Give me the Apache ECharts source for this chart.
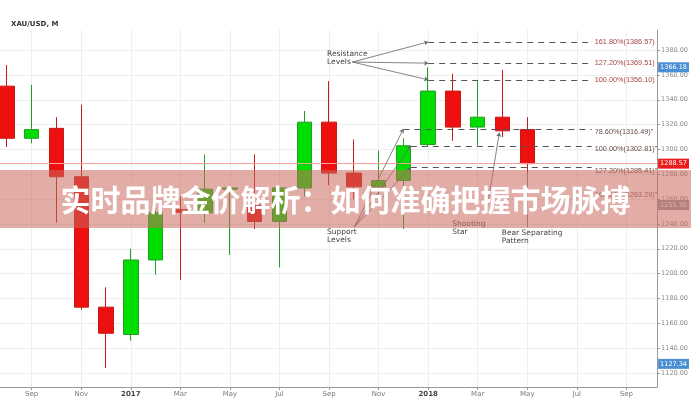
<!DOCTYPE html>
<html><head><meta charset="utf-8">
<script src="https://cdn.jsdelivr.net/npm/echarts@6/dist/echarts.min.js"></script>
<style>html,body{margin:0;padding:0;background:#fff}#c{width:691px;height:400px}</style>
</head><body><div id="c"></div>
<script>
// ---- data ----
const months = ['2016-08','2016-09','2016-10','2016-11','2016-12','2017-01','2017-02','2017-03','2017-04','2017-05','2017-06','2017-07','2017-08','2017-09','2017-10','2017-11','2017-12','2018-01','2018-02','2018-03','2018-04','2018-05'];
const opens  = [1351,1309,1317,1278,1173,1151,1211,1251.5,1249,1268,1255,1242,1269,1322,1281,1270,1275,1304,1347,1318,1326,1316];
const closes = [1309,1316,1278,1173,1152,1211,1249,1249.5,1268,1269,1242,1269,1322,1281,1270,1275,1303,1347,1318,1326,1315,1288.57];
const lows   = [1302,1305,1241,1171,1124,1146,1199,1195,1241,1215,1236,1205,1262,1271,1260,1264,1236,1302,1307,1303,1310,1281];
const highs  = [1368,1352,1326,1336,1189,1220,1264,1262,1296,1270,1296,1270,1331,1355,1308,1299,1309,1366,1361,1356,1364,1326];
const xTickLabels = ['Sep','Nov','2017','Mar','May','Jul','Sep','Nov','2018','Mar','May','Jul','Sep'];
const yTickValues = [1120,1140,1160,1180,1200,1220,1240,1260,1280,1300,1320,1340,1360,1380];
const fibUpperNames  = ['161.80%','127.20%','100.00%'];
const fibUpperValues = [1386.57,1369.51,1356.10];
const fibLowerNames  = ['78.60%','100.00%','127.20%'];
const fibLowerValues = [1316.49,1302.81,1285.41];
const fibHiddenName = '161.80%';
const fibHiddenValue = 1263.29;
const tagValues = [1366.18,1288.57,1255.30,1127.34];
const tagKinds  = ['blue','red','grey','blue'];
const chartTitle = 'XAU/USD, M';
const bannerText = '实时品牌金价解析：如何准确把握市场脉搏';

// ---- helpers ----
function monthIndex(s){const [y,m]=s.split('-').map(Number);return (y-2016)*12+(m-9);}
const candleData = months.map((m,i)=>[monthIndex(m),opens[i],closes[i],lows[i],highs[i]]);
const xi = s => monthIndex(s);
const xTickValues = xTickLabels.map((_,i)=>i*2);
const TRANSPARENT = 'rgba(0,0,0,0)';

const tagColors = {blue:'#4a8fd3',red:'#ec1c1c',grey:'#9a9aa6'};
const fibFont = {fontSize:7.3,fontFamily:'Liberation Sans'};
const fibLineStyle = {type:[6,5],color:'#555',width:1.2};
const fibLines = [];
fibUpperValues.forEach((v,i)=>{
  fibLines.push([{coord:[xi('2018-01'),v],lineStyle:fibLineStyle,
     label:Object.assign({show:true,position:'end',distance:3,formatter:fibUpperNames[i]+'('+v.toFixed(2)+')',color:'#a84444'},fibFont)},
     {coord:[22.6,v]}]);
});
fibLowerValues.forEach((v,i)=>{
  const start = i===0 ? 15 : 15.3;
  fibLines.push([{coord:[start,v],lineStyle:fibLineStyle,
     label:Object.assign({show:true,position:'end',distance:3,formatter:fibLowerNames[i]+'('+v.toFixed(2)+')"',color:'#6a4848',offset:[0,3]},fibFont)},
     {coord:[22.6,v]}]);
});
fibLines.push([{coord:[22.0,fibHiddenValue],lineStyle:{color:TRANSPARENT},
   label:Object.assign({show:true,position:'end',distance:3,formatter:fibHiddenName+'('+fibHiddenValue.toFixed(2)+')"',color:'#8a6060'},fibFont)},
   {coord:[22.6,fibHiddenValue]}]);

const tagLines = tagValues.map((v,i)=>({
  yAxis:v,
  lineStyle: tagKinds[i]==='red' ? {color:'#f2a0a0',width:1,type:'solid'} : {color:TRANSPARENT},
  label:{show:true,position:'end',distance:1,formatter:v.toFixed(2),color:'#fff',fontSize:6.5,
    backgroundColor:tagColors[tagKinds[i]],padding:[2,2,1,2],fontFamily:'DejaVu Sans'}
}));

const annStyle = {color:'#666',width:0.8,type:'solid'};
const arrowLines = [];
fibUpperValues.forEach(v=>arrowLines.push([{coord:[12.94,1370.4],lineStyle:annStyle},{coord:[xi('2018-01'),v]}]));
[[15,fibLowerValues[0]],[15.3,fibLowerValues[1]],[15.3,fibLowerValues[2]]].forEach(p=>arrowLines.push([{coord:[13.02,1237.6],lineStyle:annStyle},{coord:p}]));
arrowLines.push([{coord:[18.35,1248.8],lineStyle:annStyle},{coord:[18.87,1313.5]}]);
arrowLines.push([{coord:[xi('2018-05'),1281],lineStyle:annStyle,symbol:'none'},{coord:[xi('2018-05'),1237.5],symbol:'none'}]);

const annPoints = [
  {coord:[11.9,1373.6],text:'Resistance\nLevels'},
  {coord:[11.9,1230.3],text:'Support\nLevels'},
  {coord:[16.95,1236.7],text:'Shooting\nStar'},
  {coord:[18.95,1229.5],text:'Bear Separating\nPattern'}
].map(p=>({coord:p.coord,symbol:'circle',symbolSize:1,itemStyle:{color:TRANSPARENT},
  label:{show:true,formatter:p.text,position:'right',distance:0,color:'#444',fontSize:7.5,
    fontFamily:'DejaVu Sans',align:'left',lineHeight:8}}));

const chart = echarts.init(document.getElementById('c'),null,{renderer:'canvas'});
chart.setOption({
  animation:false,
  title:{text:chartTitle,left:6,top:16,textStyle:{fontSize:7,fontWeight:'bold',color:'#333',fontFamily:'DejaVu Sans'}},
  grid:{left:0,right:29,top:30,bottom:13,containLabel:false},
  xAxis:{type:'value',min:-1.28,max:25.24,splitNumber:13,
    axisLine:{onZero:false,lineStyle:{color:'#999'}},
    axisTick:{show:true,length:3,lineStyle:{color:'#999'},customValues:xTickValues},
    splitLine:{show:true,lineStyle:{color:'#eeeeee'}},
    axisLabel:{fontSize:7,color:'#777',margin:4,fontFamily:'DejaVu Sans',
      customValues:xTickValues,
      formatter:v=>{const k=Math.round(v/2);if(Math.abs(v/2-k)>1e-6||k<0||k>=xTickLabels.length)return '';const t=xTickLabels[k];return /^\d{4}$/.test(t)?'{y|'+t+'}':t;},
      rich:{y:{fontSize:7,fontWeight:'bold',color:'#444',fontFamily:'DejaVu Sans'}}}
  },
  yAxis:{type:'value',position:'right',min:1108.7,max:1396.2,splitNumber:14,scale:true,
    axisLine:{show:true,onZero:false,lineStyle:{color:'#999'}},
    axisTick:{show:true,length:3,lineStyle:{color:'#999'},customValues:yTickValues},
    splitLine:{show:true,lineStyle:{color:'#eeeeee'}},
    axisLabel:{fontSize:6.5,color:'#888',margin:4,fontFamily:'DejaVu Sans',
      customValues:yTickValues,formatter:v=>v.toFixed(2)}
  },
  series:[
    {type:'candlestick',data:candleData,barWidth:15,
      itemStyle:{color:'#00dd00',color0:'#ee0f0f',borderColor:'#22a022',borderColor0:'#c81818',borderWidth:1},
      markLine:{silent:true,symbol:['none','none'],animation:false,data:fibLines.concat(tagLines)}
    },
    {type:'line',data:[],
      markLine:{silent:true,symbol:['none','arrow'],symbolSize:4,animation:false,label:{show:false},data:arrowLines},
      markPoint:{silent:true,animation:false,data:annPoints}
    }
  ],
  graphic:[
    {type:'rect',left:0,top:170,z:100,shape:{width:691,height:58},style:{fill:'rgba(200,105,92,0.55)'}},
    {type:'text',left:'center',top:185,z:101,style:{text:bannerText,fill:'#fff',
      font:'bold 30px "Noto Sans CJK SC"',shadowBlur:3,shadowColor:'rgba(0,0,0,0.25)'}}
  ]
});
</script></body></html>
